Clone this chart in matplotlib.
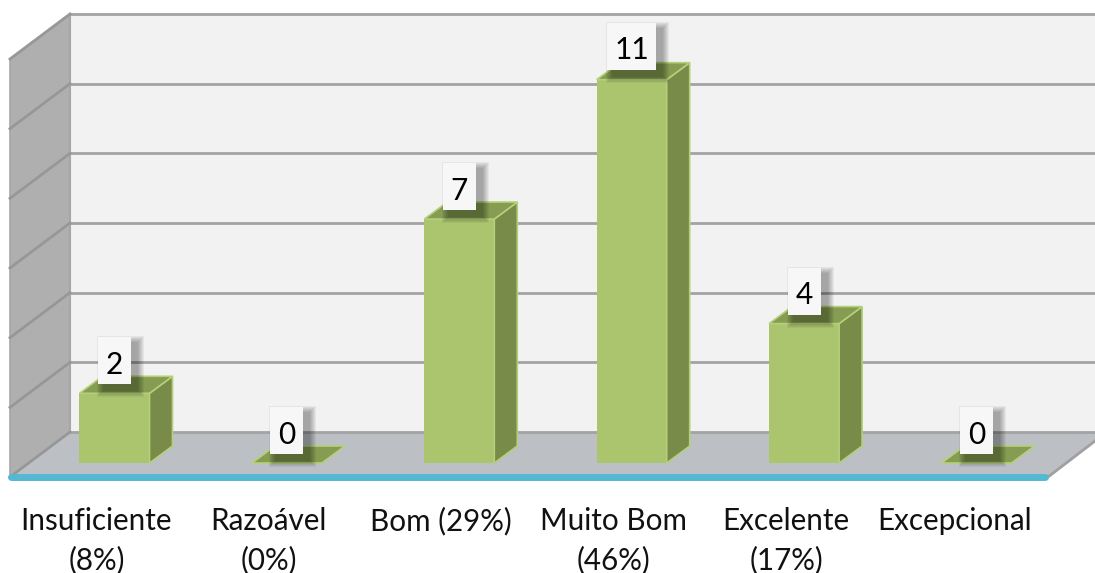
import matplotlib
matplotlib.use('Agg')
import matplotlib.pyplot as plt
from matplotlib.patches import Polygon, Rectangle

categories = ['Insuficiente\n(8%)', 'Razoável\n(0%)', 'Bom (29%)', 'Muito Bom\n(46%)', 'Excelente\n(17%)', 'Excepcional']
values = [2, 0, 7, 11, 4, 0]
grid_values = [0, 2, 4, 6, 8, 10, 12]

W, H = 1095, 573
# scale of the picture: pixels per category step / per unit of value
step = 172.4
unit = 34.85
x0 = 114.5
y0 = 463
bar_w = 70 / step
dep_x = 23 / step
dep_y = 17 / unit

fig = plt.figure(figsize=(W / 100, H / 100), dpi=100)
ax = fig.add_axes([0, 0, 1, 1])
ax.set_xlim(-x0 / step, (W - x0) / step)
ax.set_ylim((y0 - H) / unit, y0 / unit)
ax.axis('off')
plt.rcParams['font.family'] = ['Lato', 'DejaVu Sans']


def px(x, y):
    # picture pixels to data coordinates, for the wall and floor
    return (x - x0) / step, (y0 - y) / unit


def poly(points, **kw):
    ax.add_patch(Polygon([px(*p) for p in points], closed=True, **kw))


def shadow(x, y, w, h):
    # soft shadow behind the value labels
    for g in range(7, 0, -1):
        ax.add_patch(Rectangle(px(x + 6 - g, y + h + 6 + g), (w + 2 * g) / step, (h + 2 * g) / unit,
                               fc='black', ec='none', alpha=0.05, zorder=5))


# back wall, side wall, floor
poly([(70, 14), (W, 14), (W, 432), (70, 432)], fc='#f2f2f2', ec='none', zorder=1)
poly([(10, 59), (70, 14), (70, 432), (10, 477)], fc='#afafaf', ec='none', zorder=1)
poly([(10, 477), (70, 432), (W, 432), (W, 441), (1048, 477)], fc='#bcbfc3', ec='none', zorder=1)
ax.plot(*zip(px(1048, 477), px(W, 441)), color='#a0a0a0', lw=2, zorder=2)
ax.plot(*zip(px(70, 14), px(70, 432)), color='#a6a6a6', lw=1.5, zorder=2)
ax.plot(*zip(px(10, 59), px(10, 477)), color='#a6a6a6', lw=1.2, zorder=2)

# gridlines run along the back wall and down the side wall
for g in grid_values:
    back = 432 - (g / 2) * 69.67
    ax.plot(*zip(px(70, back), px(W, back)), color='#a3a3a3', lw=2, zorder=2)
    ax.plot(*zip(px(10, back + 45), px(70, back)), color='#979797', lw=2, zorder=2)

# blue axis line
ax.plot(*zip(px(11, 477), px(1045, 477)), color='#55b8d1', lw=5, solid_capstyle='round', zorder=3)

# bars
bar_edge = '#b5d07a'
pos = list(range(len(values)))
ax.bar(pos, values, width=bar_w, color='#abc56f', edgecolor='none', zorder=4)
for p, v in zip(pos, values):
    l, r = p - bar_w / 2, p + bar_w / 2
    side = [(r, 0), (r + dep_x, dep_y), (r + dep_x, v + dep_y), (r, v)]
    top = [(l, v), (r, v), (r + dep_x, v + dep_y), (l + dep_x, v + dep_y)]
    if v > 0:
        ax.add_patch(Polygon(side, closed=True, fc='#788b49', ec=bar_edge, lw=1.2, zorder=4))
    ax.add_patch(Polygon(top, closed=True, fc='#859c52', ec=bar_edge, lw=1.2, zorder=4))

# value labels
for p, v in zip(pos, values):
    cx = x0 + p * step
    bx_w = 49 if v > 9 else 33
    by = y0 - v * unit - 56 - (1 if v > 9 else 0)
    bx = cx - bx_w / 2
    shadow(bx, by, bx_w, 47)
    ax.add_patch(Rectangle(px(bx, by + 47), bx_w / step, 47 / unit, fc='#f7f7f7', ec='none', zorder=6))
    ax.text(p, (y0 - (by + 27.5)) / unit, str(v), ha='center', va='center', fontsize=21.5, color='black', zorder=7)

# category labels sit a little left of their bars, the last one a bit more
for p, c in zip(pos, categories):
    shift = 22 if p == 5 else 18
    ax.text(p - shift / step, px(0, 507)[1], c, ha='center', va='top', fontsize=21.3,
            color='#111111', linespacing=1.47, zorder=7)

fig.savefig('out.png', dpi=100)
